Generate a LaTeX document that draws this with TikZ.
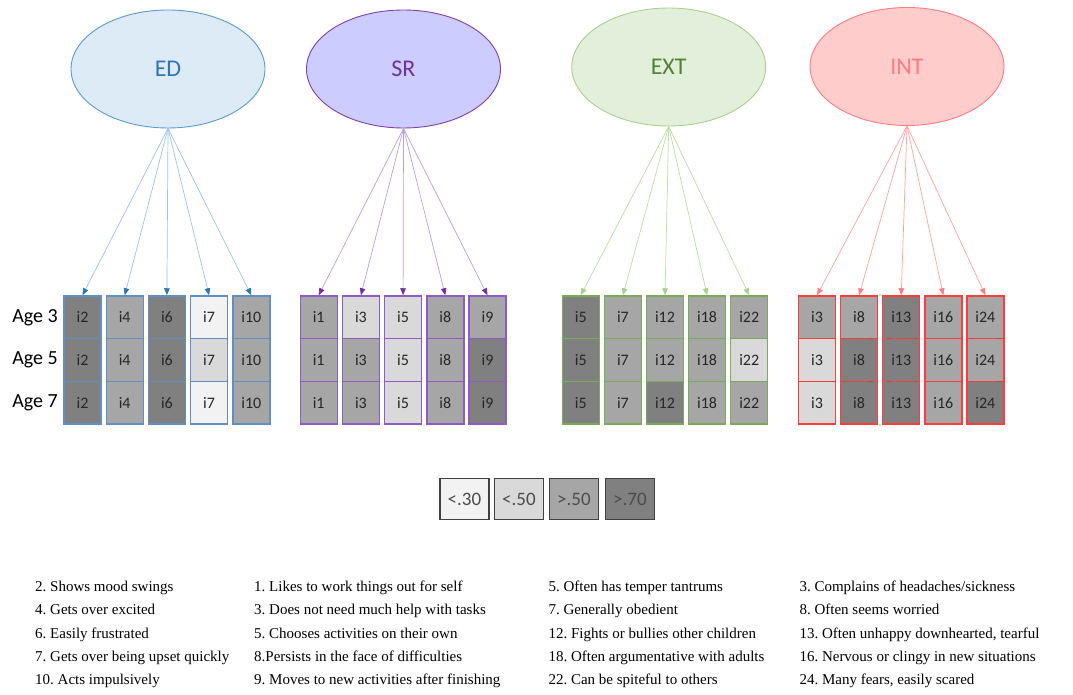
\documentclass[tikz,border=0pt]{standalone}
\usepackage{fontspec}
\setmainfont{Carlito}
\newfontfamily\listfont{Liberation Serif}
\usetikzlibrary{shapes.geometric,arrows.meta}
\frenchspacing

\definecolor{edline}{HTML}{5B9BD5}
\definecolor{edfill}{HTML}{DDEBF7}
\definecolor{edtext}{HTML}{2E75B6}
\definecolor{edarrow}{HTML}{9DC3E6}
\definecolor{edhead}{HTML}{2E75B6}
\definecolor{edcell}{HTML}{5F8FC4}
\definecolor{srline}{HTML}{7F3FB0}
\definecolor{srfill}{HTML}{CCCCFF}
\definecolor{srtext}{HTML}{7030A0}
\definecolor{srarrow}{HTML}{BBA0DA}
\definecolor{srhead}{HTML}{7030A0}
\definecolor{srcell}{HTML}{8E5BC4}
\definecolor{extline}{HTML}{A9D18E}
\definecolor{extfill}{HTML}{E2EFDA}
\definecolor{exttext}{HTML}{548235}
\definecolor{extarrow}{HTML}{BCDDA6}
\definecolor{exthead}{HTML}{A9D18E}
\definecolor{extcell}{HTML}{78AC5A}
\definecolor{intline}{HTML}{FF7C80}
\definecolor{intfill}{HTML}{FFCCCC}
\definecolor{inttext}{HTML}{FF7C80}
\definecolor{intarrow}{HTML}{FFA0A0}
\definecolor{inthead}{HTML}{FF7C80}
\definecolor{intcell}{HTML}{FF3C3C}
\definecolor{sha}{HTML}{F2F2F2}
\definecolor{shb}{HTML}{D9D9D9}
\definecolor{shc}{HTML}{A6A6A6}
\definecolor{shd}{HTML}{808080}

\begin{document}
\begin{tikzpicture}[x=1pt,y=-1pt,
	latent/.style={ellipse, draw=#1line, fill=#1fill, text=#1text, line width=0.9pt, minimum width=194pt, minimum height=118pt, font=\fontsize{24}{24}\selectfont},
	cell/.style={draw=#1cell, line width=1.4pt, minimum width=37pt, minimum height=42.7pt, inner sep=0pt, text=black!85, font=\fontsize{16}{16}\selectfont},
	load/.style={draw=#1arrow, line width=0.7pt, -{Triangle[length=7pt,width=5.5pt,color=#1head]}},
	agelab/.style={anchor=east, inner sep=0pt, font=\fontsize{20}{20}\selectfont},
	legbox/.style={draw=black!75, line width=1.3pt, minimum width=49pt, minimum height=41pt, inner sep=0pt, text=black!70, font=\fontsize{19}{19}\selectfont},
	itemlist/.style={anchor=north west, align=left, inner sep=0pt, font=\listfont\fontsize{15}{23.2}\selectfont}]
	\useasboundingbox (0,0) rectangle (1073,695);
	%latent factors
	\node[latent=ed] (ed) at (168,69) {ED};
	\node[latent=sr] (sr) at (403.5,69) {SR};
	\node[latent=ext] (ext) at (668.7,67) {EXT};
	\node[latent=int] (int) at (907,66.5) {INT};
	%ages
	\node[agelab] (age3) at (58,317.3) {Age 3};
	\node[agelab] (age5) at (58,360) {Age 5};
	\node[agelab] (age7) at (58,402.7) {Age 7};
	%item columns, shade per age
	\foreach \n/\lab/\p/\q/\r in {1/i2/d/d/d, 2/i4/c/c/c, 3/i6/d/d/d, 4/i7/a/b/a, 5/i10/c/c/c}{
		\node[cell=ed, fill=sh\p] (ed-\n-3) at ({82.5+42.2*(\n-1)},317.3) {\lab};
		\node[cell=ed, fill=sh\q] (ed-\n-5) at ({82.5+42.2*(\n-1)},360) {\lab};
		\node[cell=ed, fill=sh\r] (ed-\n-7) at ({82.5+42.2*(\n-1)},402.7) {\lab};
		\draw[load=ed] (ed.south) -- (ed-\n-3.north);
	}
	\foreach \n/\lab/\p/\q/\r in {1/i1/c/c/c, 2/i3/b/c/c, 3/i5/b/b/b, 4/i8/c/c/c, 5/i9/c/d/d}{
		\node[cell=sr, fill=sh\p] (sr-\n-3) at ({318.7+42.2*(\n-1)},317.3) {\lab};
		\node[cell=sr, fill=sh\q] (sr-\n-5) at ({318.7+42.2*(\n-1)},360) {\lab};
		\node[cell=sr, fill=sh\r] (sr-\n-7) at ({318.7+42.2*(\n-1)},402.7) {\lab};
		\draw[load=sr] (sr.south) -- (sr-\n-3.north);
	}
	\foreach \n/\lab/\p/\q/\r in {1/i5/d/d/d, 2/i7/c/c/c, 3/i12/c/c/d, 4/i18/c/c/c, 5/i22/c/b/c}{
		\node[cell=ext, fill=sh\p] (ext-\n-3) at ({580.8+42.1*(\n-1)},317.3) {\lab};
		\node[cell=ext, fill=sh\q] (ext-\n-5) at ({580.8+42.1*(\n-1)},360) {\lab};
		\node[cell=ext, fill=sh\r] (ext-\n-7) at ({580.8+42.1*(\n-1)},402.7) {\lab};
		\draw[load=ext] (ext.south) -- (ext-\n-3.north);
	}
	\foreach \n/\lab/\p/\q/\r in {1/i3/c/b/b, 2/i8/c/d/d, 3/i13/d/d/d, 4/i16/c/c/c, 5/i24/c/c/d}{
		\node[cell=int, fill=sh\p] (int-\n-3) at ({817+42.1*(\n-1)},317.3) {\lab};
		\node[cell=int, fill=sh\q] (int-\n-5) at ({817+42.1*(\n-1)},360) {\lab};
		\node[cell=int, fill=sh\r] (int-\n-7) at ({817+42.1*(\n-1)},402.7) {\lab};
		\draw[load=int] (int.south) -- (int-\n-3.north);
	}
	%legend
	\node[legbox, fill=sha] (lega) at (464.5,499) {<.30};
	\node[legbox, fill=shb] (legb) at (519,499) {<.50};
	\node[legbox, fill=shc] (legc) at (574,499) {>.50};
	\node[legbox, fill=shd] (legd) at (630,499) {>.70};
	%item wording
	\node[itemlist] (edlist) at (35,581) {2. Shows mood swings\\4. Gets over excited\\6. Easily frustrated\\7. Gets over being upset quickly\\10. Acts impulsively};
	\node[itemlist] (srlist) at (254,581) {1. Likes to work things out for self\\3. Does not need much help with tasks\\5. Chooses activities on their own\\8.Persists in the face of difficulties\\9. Moves to new activities after finishing};
	\node[itemlist] (extlist) at (548.3,581) {5. Often has temper tantrums\\7. Generally obedient\\12. Fights or bullies other children\\18. Often argumentative with adults\\22. Can be spiteful to others};
	\node[itemlist] (intlist) at (799.3,581) {3. Complains of headaches/sickness\\8. Often seems worried\\13. Often unhappy downhearted, tearful\\16. Nervous or clingy in new situations\\24. Many fears, easily scared};
\end{tikzpicture}
\end{document}
